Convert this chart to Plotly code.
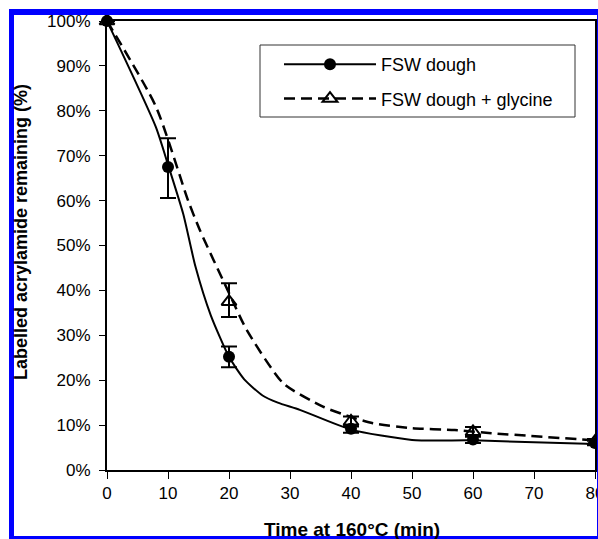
import plotly.graph_objects as go

# ---- data ----
time_fsw = [0, 10, 20, 40, 60, 80]
fsw_pct = [100, 67.5, 25.2, 9.2, 6.8, 6.0]
fsw_err_plus = [0, 6.4, 2.3, 0.9, 0.8, 0.5]
fsw_err_minus = [0, 6.9, 2.3, 0.9, 0.8, 0.5]

time_gly = [0, 20, 40, 60, 80]
gly_pct = [100, 37.5, 10.8, 8.5, 6.3]
gly_err_plus = [0, 4.1, 1.1, 1.1, 0.6]
gly_err_minus = [0, 3.4, 1.1, 1.1, 0.6]

# smoothed trend curves (as drawn in the figure)
fit_fsw_t = [0, 8, 10, 12.5, 14.5, 17, 20, 22.5, 25.5, 28, 31.6, 40, 50, 60, 80]
fit_fsw = [100, 76.4, 68, 57, 45.3, 34.5, 25.2, 20.2, 16.6, 15.0, 13.4, 9.0, 6.7, 6.6, 5.8]
fit_gly_t = [0, 8, 13.3, 15.2, 19.8, 22.9, 28.9, 35.4, 40, 43.6, 50, 57, 63, 80]
fit_gly = [100, 81, 60, 53.5, 40, 31.2, 19.3, 14.1, 11.8, 10.4, 9.3, 8.9, 8.2, 6.6]

x_ticks = [0, 10, 20, 30, 40, 50, 60, 70, 80]
y_ticks = [0, 10, 20, 30, 40, 50, 60, 70, 80, 90, 100]
y_tick_text = [f"{v}%" for v in y_ticks]

names = ["FSW dough", "FSW dough + glycine"]
x_title = "Time at 160°C (min)"
y_title = "Labelled acrylamide remaining (%)"


def gapped(v):
    out = []
    for i, a in enumerate(v):
        if i:
            out.append(None)
        out.append(a)
    return out


FONT = "Liberation Sans, Arial, sans-serif"
W, H = 598, 539
L, R, T, B = 107, 3, 21, 69
PW, PH = W - L - R, H - T - B


def px(x):
    return (x - L) / PW


def py(y):
    return (H - B - y) / PH


fig = go.Figure()

# trend curves
fig.add_trace(go.Scatter(x=fit_fsw_t, y=fit_fsw, mode="lines", showlegend=False,
                         line=dict(color="black", width=2, shape="spline", smoothing=0.6),
                         hoverinfo="skip"))
fig.add_trace(go.Scatter(x=fit_gly_t, y=fit_gly, mode="lines", showlegend=False,
                         line=dict(color="black", width=2.5, dash="11px,6px", shape="spline", smoothing=0.6),
                         hoverinfo="skip"))

# measured points with error bars
fig.add_trace(go.Scatter(
    x=gapped(time_fsw), y=gapped(fsw_pct), mode="lines+markers", name=names[0],
    legendgroup="a", connectgaps=False, cliponaxis=False,
    line=dict(color="black", width=2),
    marker=dict(symbol="circle", size=12, color="black"),
    error_y=dict(type="data", symmetric=False, array=gapped(fsw_err_plus),
                 arrayminus=gapped(fsw_err_minus), color="black", thickness=2, width=8)))
fig.add_trace(go.Scatter(
    x=gapped(time_gly), y=gapped(gly_pct), mode="lines+markers", name=names[1],
    legendgroup="b", connectgaps=False, cliponaxis=False,
    line=dict(color="black", width=2.5, dash="11px,6px"),
    marker=dict(symbol="triangle-up-open", size=13, color="black", line=dict(width=2, color="black")),
    error_y=dict(type="data", symmetric=False, array=gapped(gly_err_plus),
                 arrayminus=gapped(gly_err_minus), color="black", thickness=2, width=8)))

blue = "#0000ff"
shapes = [
    # legend frame
    dict(type="rect", xref="paper", yref="paper", x0=px(260), x1=px(575), y0=py(45), y1=py(117),
         line=dict(color="#333", width=1), fillcolor="rgba(0,0,0,0)", layer="above"),
    # blue page frame
    dict(type="rect", xref="paper", yref="paper", x0=px(9), x1=px(14), y0=py(9), y1=py(539),
         fillcolor=blue, line_width=0, layer="above"),
    dict(type="rect", xref="paper", yref="paper", x0=px(9), x1=px(598), y0=py(9), y1=py(15),
         fillcolor=blue, line_width=0, layer="above"),
    dict(type="rect", xref="paper", yref="paper", x0=px(9), x1=px(598), y0=py(536), y1=py(539),
         fillcolor=blue, line_width=0, layer="above"),
    dict(type="rect", xref="paper", yref="paper", x0=px(597), x1=px(598), y0=py(9), y1=py(539),
         fillcolor=blue, line_width=0, layer="above"),
]

annotations = [
    dict(text=f"<b>{y_title}</b>", xref="paper", yref="paper", x=px(21), y=py(232),
         textangle=-90, showarrow=False, font=dict(family=FONT, size=18, color="black"),
         xanchor="center", yanchor="middle"),
    dict(text=f"<b>{x_title}</b>", xref="paper", yref="paper", x=px(352), y=py(529),
         showarrow=False, font=dict(family=FONT, size=19, color="black"),
         xanchor="center", yanchor="middle"),
]

fig.update_layout(
    width=W, height=H,
    margin=dict(l=L, r=R, t=T, b=B, autoexpand=False),
    paper_bgcolor="white", plot_bgcolor="white",
    font=dict(family=FONT, size=17, color="black"),
    showlegend=True,
    legend=dict(x=px(279), y=py(46), xanchor="left", yanchor="top",
                borderwidth=0, bgcolor="rgba(0,0,0,0)",
                font=dict(family=FONT, size=18), itemwidth=92,
                tracegroupgap=8, traceorder="grouped"),
    shapes=shapes, annotations=annotations,
    xaxis=dict(range=[0, 80], tickvals=x_ticks, showgrid=False, zeroline=False,
               showline=True, linecolor="black", linewidth=2, mirror=True,
               ticks="outside", ticklen=7, tickwidth=1, tickcolor="black",
               ticklabeloverflow="allow",
               tickfont=dict(family=FONT, size=17)),
    yaxis=dict(range=[0, 100], tickmode="array", tickvals=y_ticks, ticktext=y_tick_text,
               showgrid=False, zeroline=False,
               showline=True, linecolor="black", linewidth=2, mirror=True,
               ticks="outside", ticklen=6, tickwidth=1, tickcolor="black",
               ticklabelstandoff=5, ticklabeloverflow="allow",
               tickfont=dict(family=FONT, size=17)),
)

fig.write_html("out.html")
